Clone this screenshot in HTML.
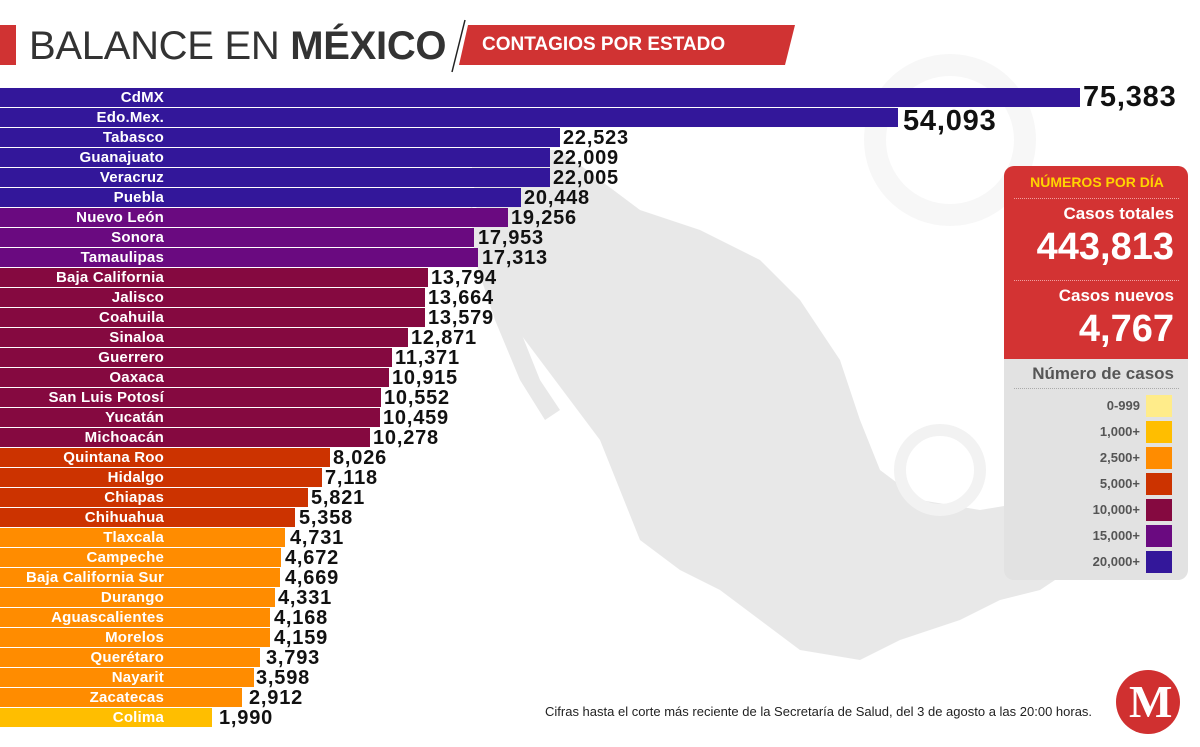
<!DOCTYPE html>
<html><head><meta charset="utf-8"><style>
*{margin:0;padding:0;box-sizing:border-box}
body{width:1200px;height:747px;background:#fff;position:relative;overflow:hidden;font-family:"Liberation Sans",sans-serif}
.b{position:absolute;left:0;height:19px}
.l{position:absolute;left:0;width:164px;text-align:right;color:#fff;font-weight:bold;font-size:15px;line-height:19px;letter-spacing:0.2px}
.n{position:absolute;font-weight:bold;font-size:20px;color:#111;line-height:20px;letter-spacing:0.8px}
.c1{background:#33179a}.c2{background:#6a0a80}.c3{background:#850940}.c4{background:#cc3300}.c5{background:#ff8c00}.c6{background:#ffbe00}
.lg{position:absolute;right:0;font-weight:bold;font-size:13px;color:#555}
.sw{position:absolute;left:1146px;width:26px;height:22px}
</style></head><body>
<svg style="position:absolute;left:0;top:0" width="1200" height="747">
<path d="M470 150 L560 150 L640 210 L700 230 L760 260 L800 300 L840 360 L860 420 L880 470 L920 500 L980 510 L1040 500 L1080 520 L1070 570 L1040 590 L1000 600 L960 620 L900 640 L860 660 L800 650 L760 620 L720 590 L680 570 L640 540 L620 490 L600 440 L570 400 L540 360 L510 320 L490 280 L480 240 Z" fill="#e8e8e8"/>
<path d="M470 200 L490 260 L520 330 L540 380 L560 410 L545 420 L520 380 L495 320 L475 260 Z" fill="#e8e8e8"/>
<circle cx="950" cy="140" r="75" fill="none" stroke="#f7f7f7" stroke-width="22"/>
<circle cx="940" cy="470" r="40" fill="none" stroke="#f2f2f2" stroke-width="12"/>
<line x1="465" y1="20" x2="452" y2="72" stroke="#222" stroke-width="1.5"/>
<polygon points="468,25 795,25 785,65 459,65" fill="#d03333"/>
<circle cx="1148" cy="702" r="32" fill="#d03030"/>
</svg>
<div style="position:absolute;left:0;top:25px;width:16px;height:40px;background:#d03333"></div>
<div style="position:absolute;left:29px;top:22px;font-size:40px;color:#333;letter-spacing:-0.3px;line-height:48px">BALANCE EN <b>MÉXICO</b></div>
<div style="position:absolute;left:482px;top:32px;font-size:19px;color:#fff;font-weight:bold;line-height:26px">CONTAGIOS POR ESTADO</div>
<div style="position:absolute;left:1129px;top:676px;font-size:46px;color:#fff;font-family:'Liberation Serif',serif;font-weight:bold;line-height:52px">M</div>
<div style="position:absolute;left:545px;top:704px;font-size:13px;color:#222">Cifras hasta el corte más reciente de la Secretaría de Salud, del 3 de agosto a las 20:00 horas.</div>

<div class="b c1" style="top:88px;width:1080px"></div><div class="l" style="top:88px">CdMX</div><div class="n" style="top:82px;left:1083px;font-size:29px;line-height:30px">75,383</div>
<div class="b c1" style="top:108px;width:898px"></div><div class="l" style="top:108px">Edo.Mex.</div><div class="n" style="top:106px;left:903px;font-size:29px;line-height:30px">54,093</div>
<div class="b c1" style="top:128px;width:560px"></div><div class="l" style="top:128px">Tabasco</div><div class="n" style="top:128px;left:563px">22,523</div>
<div class="b c1" style="top:148px;width:550px"></div><div class="l" style="top:148px">Guanajuato</div><div class="n" style="top:148px;left:553px">22,009</div>
<div class="b c1" style="top:168px;width:550px"></div><div class="l" style="top:168px">Veracruz</div><div class="n" style="top:168px;left:553px">22,005</div>
<div class="b c1" style="top:188px;width:521px"></div><div class="l" style="top:188px">Puebla</div><div class="n" style="top:188px;left:524px">20,448</div>
<div class="b c2" style="top:208px;width:508px"></div><div class="l" style="top:208px">Nuevo León</div><div class="n" style="top:208px;left:511px">19,256</div>
<div class="b c2" style="top:228px;width:474px"></div><div class="l" style="top:228px">Sonora</div><div class="n" style="top:228px;left:478px">17,953</div>
<div class="b c2" style="top:248px;width:478px"></div><div class="l" style="top:248px">Tamaulipas</div><div class="n" style="top:248px;left:482px">17,313</div>
<div class="b c3" style="top:268px;width:428px"></div><div class="l" style="top:268px">Baja California</div><div class="n" style="top:268px;left:431px">13,794</div>
<div class="b c3" style="top:288px;width:425px"></div><div class="l" style="top:288px">Jalisco</div><div class="n" style="top:288px;left:428px">13,664</div>
<div class="b c3" style="top:308px;width:425px"></div><div class="l" style="top:308px">Coahuila</div><div class="n" style="top:308px;left:428px">13,579</div>
<div class="b c3" style="top:328px;width:408px"></div><div class="l" style="top:328px">Sinaloa</div><div class="n" style="top:328px;left:411px">12,871</div>
<div class="b c3" style="top:348px;width:392px"></div><div class="l" style="top:348px">Guerrero</div><div class="n" style="top:348px;left:395px">11,371</div>
<div class="b c3" style="top:368px;width:389px"></div><div class="l" style="top:368px">Oaxaca</div><div class="n" style="top:368px;left:392px">10,915</div>
<div class="b c3" style="top:388px;width:381px"></div><div class="l" style="top:388px">San Luis Potosí</div><div class="n" style="top:388px;left:384px">10,552</div>
<div class="b c3" style="top:408px;width:380px"></div><div class="l" style="top:408px">Yucatán</div><div class="n" style="top:408px;left:383px">10,459</div>
<div class="b c3" style="top:428px;width:370px"></div><div class="l" style="top:428px">Michoacán</div><div class="n" style="top:428px;left:373px">10,278</div>
<div class="b c4" style="top:448px;width:330px"></div><div class="l" style="top:448px">Quintana Roo</div><div class="n" style="top:448px;left:333px">8,026</div>
<div class="b c4" style="top:468px;width:322px"></div><div class="l" style="top:468px">Hidalgo</div><div class="n" style="top:468px;left:325px">7,118</div>
<div class="b c4" style="top:488px;width:308px"></div><div class="l" style="top:488px">Chiapas</div><div class="n" style="top:488px;left:311px">5,821</div>
<div class="b c4" style="top:508px;width:295px"></div><div class="l" style="top:508px">Chihuahua</div><div class="n" style="top:508px;left:299px">5,358</div>
<div class="b c5" style="top:528px;width:285px"></div><div class="l" style="top:528px">Tlaxcala</div><div class="n" style="top:528px;left:290px">4,731</div>
<div class="b c5" style="top:548px;width:281px"></div><div class="l" style="top:548px">Campeche</div><div class="n" style="top:548px;left:285px">4,672</div>
<div class="b c5" style="top:568px;width:280px"></div><div class="l" style="top:568px">Baja California Sur</div><div class="n" style="top:568px;left:285px">4,669</div>
<div class="b c5" style="top:588px;width:275px"></div><div class="l" style="top:588px">Durango</div><div class="n" style="top:588px;left:278px">4,331</div>
<div class="b c5" style="top:608px;width:270px"></div><div class="l" style="top:608px">Aguascalientes</div><div class="n" style="top:608px;left:274px">4,168</div>
<div class="b c5" style="top:628px;width:270px"></div><div class="l" style="top:628px">Morelos</div><div class="n" style="top:628px;left:274px">4,159</div>
<div class="b c5" style="top:648px;width:260px"></div><div class="l" style="top:648px">Querétaro</div><div class="n" style="top:648px;left:266px">3,793</div>
<div class="b c5" style="top:668px;width:254px"></div><div class="l" style="top:668px">Nayarit</div><div class="n" style="top:668px;left:256px">3,598</div>
<div class="b c5" style="top:688px;width:242px"></div><div class="l" style="top:688px">Zacatecas</div><div class="n" style="top:688px;left:249px">2,912</div>
<div class="b c6" style="top:708px;width:212px"></div><div class="l" style="top:708px">Colima</div><div class="n" style="top:708px;left:219px">1,990</div>

<div style="position:absolute;left:1004px;top:166px;width:184px;height:414px;border-radius:10px;overflow:hidden;background:#e2e2e2">
<div style="position:absolute;left:0;top:0;width:184px;height:193px;background:#d33333"></div>
<div style="position:absolute;left:8px;top:8px;width:170px;text-align:center;color:#ffd400;font-weight:bold;font-size:14px">NÚMEROS POR DÍA</div>
<div style="position:absolute;left:10px;top:32px;width:165px;border-top:1px dotted #f0a0a0"></div>
<div style="position:absolute;right:14px;top:38px;color:#fff;font-size:17px;font-weight:bold">Casos totales</div>
<div style="position:absolute;right:14px;top:60px;color:#fff;font-size:38px;font-weight:bold">443,813</div>
<div style="position:absolute;left:10px;top:114px;width:165px;border-top:1px dotted #f0a0a0"></div>
<div style="position:absolute;right:14px;top:120px;color:#fff;font-size:17px;font-weight:bold">Casos nuevos</div>
<div style="position:absolute;right:14px;top:142px;color:#fff;font-size:38px;font-weight:bold">4,767</div>
<div style="position:absolute;right:14px;top:198px;color:#555;font-size:17px;font-weight:bold">Número de casos</div>
<div style="position:absolute;left:10px;top:222px;width:165px;border-top:1px dotted #aaa"></div>
</div>
<div class="lg" style="top:398px;right:60px">0-999</div><div class="sw" style="top:395px;background:#ffec8a"></div>
<div class="lg" style="top:424px;right:60px">1,000+</div><div class="sw" style="top:421px;background:#ffbe00"></div>
<div class="lg" style="top:450px;right:60px">2,500+</div><div class="sw" style="top:447px;background:#ff8c00"></div>
<div class="lg" style="top:476px;right:60px">5,000+</div><div class="sw" style="top:473px;background:#cc3300"></div>
<div class="lg" style="top:502px;right:60px">10,000+</div><div class="sw" style="top:499px;background:#850940"></div>
<div class="lg" style="top:528px;right:60px">15,000+</div><div class="sw" style="top:525px;background:#6a0a80"></div>
<div class="lg" style="top:554px;right:60px">20,000+</div><div class="sw" style="top:551px;background:#33179a"></div>
</body></html>
